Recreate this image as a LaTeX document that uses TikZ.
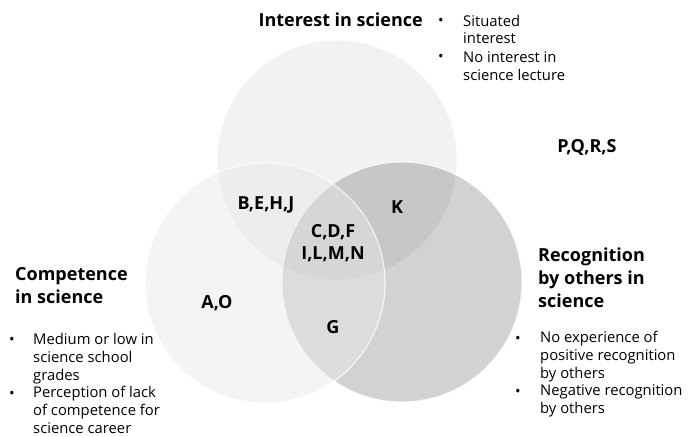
\documentclass[tikz,border=0pt]{standalone}
\usepackage{fontspec}
\setmainfont{Open Sans}
\usepackage{tikz}
\usetikzlibrary{positioning}

\tikzset{
  ring/.style={draw=white, draw opacity=0.7, line width=1.2pt},
  head/.style={font=\fontsize{18}{22.7}\selectfont\bfseries, align=left, inner sep=0pt},
  tag/.style={font=\fontsize{18}{22}\selectfont\bfseries, align=center, inner sep=0pt},
  item/.style={font=\fontsize{14.8}{17.7}\selectfont, align=left, inner sep=0pt, anchor=base west},
  dot/.style={font=\fontsize{14.8}{17.7}\selectfont, inner sep=0pt, anchor=base},
}

\begin{document}
\begin{tikzpicture}[x=1pt, y=-1pt]
        \useasboundingbox (0,0) rectangle (698,436);

        % the three sets
        \fill[black!5, ring] (337,160) circle (120pt);
        \fill[black, fill opacity=0.176, ring] (402,282) circle (120pt);
        \fill[black!9, fill opacity=0.46, ring] (265,283) circle (120pt);

        % set names (base = last line)
        \node[head, anchor=base east] at (423,27)  (interest) {Interest in science};
        \node[head, anchor=base west] at (15,303)  (competence) {Competence\\in science};
        \node[head, anchor=base west] at (538,307) (recognition) {Recognition\\by others in\\science};

        % bullet lists
        \node[item] at (463,44)  (int1) {Situated\\interest};
        \node[item] at (463,80)  (int2) {No interest in\\science lecture};
        \node[item] at (33,380)  (comp1) {Medium or low in\\science school\\grades};
        \node[item] at (33,433)  (comp2) {Perception of lack\\of competence for\\science career};
        \node[item] at (540,378) (rec1) {No experience of\\positive recognition\\by others};
        \node[item] at (540,413) (rec2) {Negative recognition\\by others};

        \node[dot] at (441,26)  (dint1) {•};
        \node[dot] at (441,62)  (dint2) {•};
        \node[dot] at (12,344)  (dcomp1) {•};
        \node[dot] at (12,398)  (dcomp2) {•};
        \node[dot] at (518,343) (drec1) {•};
        \node[dot] at (518,396) (drec2) {•};

        % who falls where
        \node[tag] at (266,205) (behj) {B,E,H,J};
        \node[tag] at (397,207) (k) {K};
        \node[tag] at (333,243) (core) {C,D,F\\I,L,M,N};
        \node[tag] at (217,303) (ao) {A,O};
        \node[tag] at (333,327) (g) {G};
        \node[tag] at (587,148) (pqrs) {P,Q,R,S};
    \end{tikzpicture}
\end{document}
